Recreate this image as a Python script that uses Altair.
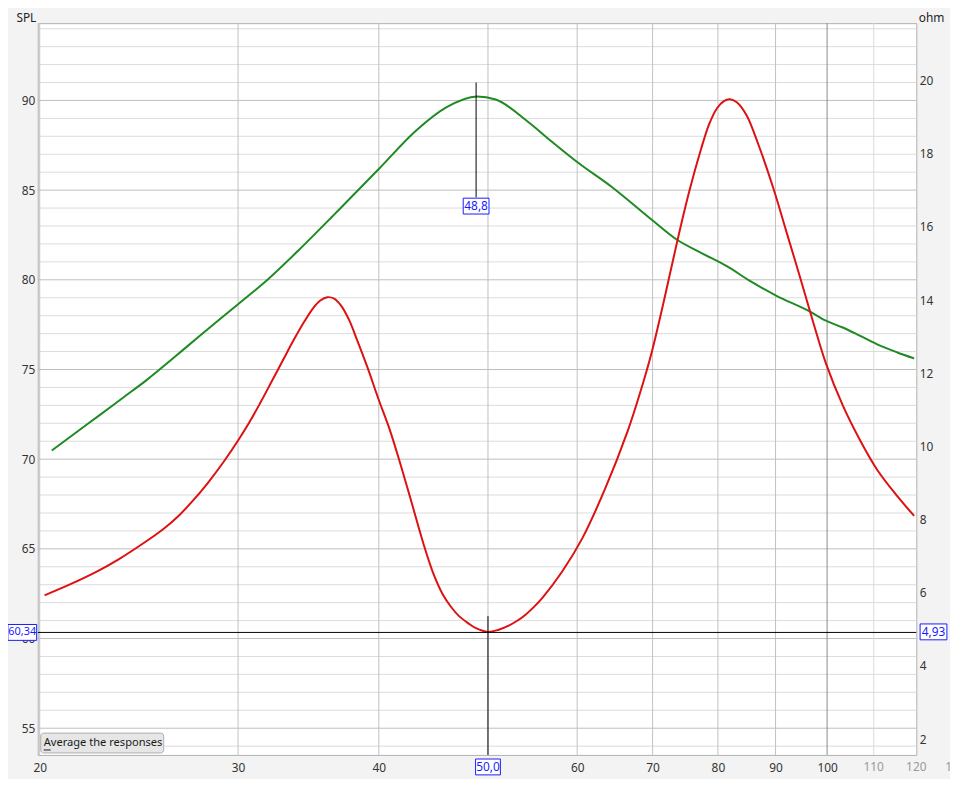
import altair as alt
import pandas as pd

# ---------------- data ----------------
spl_freq = [20.50, 21.47, 22.59, 23.76, 24.85, 26.30, 27.66, 30.00, 31.88,
            33.88, 36.74, 40.00, 43.20, 45.91, 48.88, 50.80, 54.32, 57.03,
            60.00, 64.36, 69.84, 73.47, 77.44, 81.47, 85.70, 90.18, 96.23,
            99.76, 103.26, 106.88, 111.30, 115.43, 119.48]
spl_db = [70.48, 71.42, 72.44, 73.47, 74.38, 75.65, 76.81, 78.64, 80.02,
          81.59, 83.81, 86.18, 88.34, 89.61, 90.22, 90.05, 88.78, 87.68,
          86.57, 85.19, 83.36, 82.26, 81.48, 80.76, 79.88, 79.11, 78.28,
          77.72, 77.34, 76.89, 76.34, 75.95, 75.62]

imp_freq = [20.20, 21.25, 22.45, 23.52, 24.85, 25.77, 26.56, 27.38, 28.23,
            29.10, 30.00, 30.73, 31.43, 32.14, 32.86, 33.60, 34.36, 34.99,
            35.49, 36.00, 36.51, 37.03, 37.64, 38.25, 39.04, 40.00, 40.90,
            41.74, 42.76, 43.82, 44.71, 45.63, 46.37, 47.13, 48.00, 48.78,
            50.00, 51.11, 52.16, 53.12, 53.99, 54.87, 55.88, 58.19, 60.61,
            63.50, 66.52, 68.16, 69.84, 71.71, 73.62, 75.43, 77.29, 78.55,
            79.83, 80.98, 81.97, 83.14, 84.84, 86.93, 89.61, 92.00, 94.65,
            97.17, 99.76, 103.26, 106.88, 110.85, 115.43, 119.48]
imp_ohm = [5.93, 6.22, 6.57, 6.92, 7.40, 7.75, 8.10, 8.53, 9.02,
           9.56, 10.16, 10.68, 11.22, 11.78, 12.34, 12.90, 13.42, 13.79,
           13.99, 14.08, 14.04, 13.85, 13.46, 12.92, 12.20, 11.27, 10.46,
           9.59, 8.48, 7.34, 6.53, 5.93, 5.61, 5.36, 5.17, 5.03,
           4.93, 4.99, 5.10, 5.24, 5.40, 5.60, 5.86, 6.58, 7.48,
           8.83, 10.42, 11.42, 12.55, 14.04, 15.61, 16.96, 18.13, 18.80,
           19.24, 19.44, 19.49, 19.41, 19.05, 18.24, 17.05, 15.88, 14.61,
           13.41, 12.27, 11.12, 10.19, 9.35, 8.64, 8.10]

# the 50 label sits under the cursor read-out box, so it is not listed
x_ticks = [20, 30, 40, 60, 70, 80, 90, 100]
x_ticks_faint = [110, 120, 130]
x_grid_mid = [20, 30, 40, 50, 60, 70, 80, 90]
x_grid_dark = [100]
x_grid_light = [110]
spl_ticks = [55, 60, 65, 70, 75, 80, 85, 90]
spl_minor = [v for v in range(54, 95) if v % 5 != 0]
ohm_ticks = [2, 4, 6, 8, 10, 12, 14, 16, 18, 20]

cursor_freq = 50.0
cursor_spl = 60.34
cursor_ohm = 4.93
peak_freq = 48.8

X_DOMAIN = [19.92, 120.0]
SPL_DOMAIN = [53.51, 94.31]
OHM_DOMAIN = [1.566, 21.572]
X_LABEL_LEVEL = 52.81   # SPL level at which the x tick labels sit

FONT = "Noto Sans"
BLUE = "#1a1aff"

xs = alt.Scale(type="log", domain=X_DOMAIN, nice=False)
ys = alt.Scale(domain=SPL_DOMAIN, nice=False, zero=False)
yo = alt.Scale(domain=OHM_DOMAIN, nice=False, zero=False)

# shared x axis: given identically to every layer so the merge keeps it
x_axis = alt.Axis(values=x_ticks, labelExpr="'' + datum.value",
                  orient="bottom", labelFont=FONT, labelFontSize=12,
                  labelColor="#333333", labelBaseline="middle",
                  labelPadding=12.5, domain=False, ticks=False, grid=False,
                  labelFlush=False, labelOverlap=False, title=None)
spl_axis = alt.Axis(values=spl_ticks, orient="left", title="SPL",
                    titleAngle=0, titleX=-12, titleY=-6,
                    titleAlign="center", titleBaseline="middle",
                    titleFont=FONT, titleFontSize=12,
                    titleFontWeight="normal", titleColor="#222222",
                    labelFont=FONT, labelFontSize=12, labelColor="#333333",
                    labelPadding=3, domain=False, ticks=False, grid=False)
ohm_axis = alt.Axis(values=ohm_ticks, orient="right", title="ohm",
                    titleAngle=0, titleX=15, titleY=-6,
                    titleAlign="center", titleBaseline="middle",
                    titleFont=FONT, titleFontSize=12,
                    titleFontWeight="normal", titleColor="#222222",
                    labelFont=FONT, labelFontSize=12, labelColor="#333333",
                    labelPadding=3, domain=False, ticks=False, grid=False)


def X(field="f"):
    return alt.X(f"{field}:Q", scale=xs, axis=x_axis, title=None)


def YS(field="v", axis=None):
    return alt.Y(f"{field}:Q", scale=ys, axis=axis, title=None)


def YO(field="v", axis=None):
    return alt.Y(f"{field}:Q", scale=yo, axis=axis, title=None)


layers = []

# ---------------- grid ----------------
layers.append(alt.Chart(pd.DataFrame({"v": spl_minor})).mark_rule(
    color="#dcdcdc", strokeWidth=1).encode(y=YS()))
layers.append(alt.Chart(pd.DataFrame({"v": spl_ticks})).mark_rule(
    color="#bdbdbd", strokeWidth=1).encode(y=YS()))
layers.append(alt.Chart(pd.DataFrame({"f": x_grid_mid})).mark_rule(
    color="#c0c0c0", strokeWidth=1).encode(x=X()))
layers.append(alt.Chart(pd.DataFrame({"f": x_grid_dark})).mark_rule(
    color="#8a8a8a", strokeWidth=1).encode(x=X()))
layers.append(alt.Chart(pd.DataFrame({"f": x_grid_light})).mark_rule(
    color="#dcdcdc", strokeWidth=1).encode(x=X()))

# faint tick labels at the right end (the last one is cut by the window)
layers.append(alt.Chart(pd.DataFrame({
    "f": x_ticks_faint, "v": [X_LABEL_LEVEL] * len(x_ticks_faint),
    "t": [str(v) for v in x_ticks_faint]})).mark_text(
    font=FONT, fontSize=12, color="#9a9a9a", baseline="middle", align="center"
).encode(x=X(), y=YS(), text="t:N"))

# ---------------- SPL curve (left axis) ----------------
layers.append(alt.Chart(pd.DataFrame({"f": spl_freq, "v": spl_db})).mark_line(
    color="#1f8a24", strokeWidth=2, interpolate="monotone"
).encode(x=X(), y=YS(axis=spl_axis)))

# ---------------- impedance curve (right axis) ----------------
layers.append(alt.Chart(pd.DataFrame({"f": imp_freq, "v": imp_ohm})).mark_line(
    color="#dd1111", strokeWidth=2, interpolate="catmull-rom"
).encode(x=X(), y=YO(axis=ohm_axis)))

# ---------------- cursor ----------------
layers.append(alt.Chart(pd.DataFrame({"v": [cursor_spl]})).mark_rule(
    color="black", strokeWidth=1).encode(y=YS()))
layers.append(alt.Chart(pd.DataFrame({"f": [cursor_freq], "v": [61.25],
                                      "v2": [SPL_DOMAIN[0]]})).mark_rule(
    color="black", strokeWidth=1).encode(x=X(), y=YS(), y2="v2:Q"))
layers.append(alt.Chart(pd.DataFrame({"f": [peak_freq], "v": [91.0],
                                      "v2": [84.6]})).mark_rule(
    color="black", strokeWidth=1).encode(x=X(), y=YS(), y2="v2:Q"))

spl_boxes = [
    (peak_freq, 84.11, "48,8", 26, 12),
    (cursor_freq, 52.84, "50,0", 25, 12),
    (19.30, cursor_spl, "60,34", 29, 11),
]
for f, v, t, w, fs in spl_boxes:
    d = pd.DataFrame({"f": [f], "v": [v], "t": [t]})
    layers.append(alt.Chart(d).mark_rect(
        fill="white", stroke=BLUE, strokeWidth=1, width=w, height=16
    ).encode(x=X(), y=YS()))
    layers.append(alt.Chart(d).mark_text(
        font=FONT, fontSize=fs, color=BLUE, baseline="middle", align="center"
    ).encode(x=X(), y=YS(), text="t:N"))

od = pd.DataFrame({"f": [124.3], "v": [cursor_ohm], "t": ["4,93"]})
layers.append(alt.Chart(od).mark_rect(
    fill="white", stroke=BLUE, strokeWidth=1, width=27, height=16
).encode(x=X(), y=YO()))
layers.append(alt.Chart(od).mark_text(
    font=FONT, fontSize=12, color=BLUE, baseline="middle", align="center"
).encode(x=X(), y=YO(), text="t:N"))

# ---------------- button ----------------
layers.append(alt.Chart(pd.DataFrame({"a": [1]})).mark_rect(
    fill="#e6e6e6", stroke="#adadad", strokeWidth=1, cornerRadius=3
).encode(x=alt.value(3), x2=alt.value(127), y=alt.value(716), y2=alt.value(736)))
layers.append(alt.Chart(pd.DataFrame({"t": ["Average the responses"]})).mark_text(
    font=FONT, fontSize=11.2, color="#1a1a1a", align="left", baseline="middle"
).encode(x=alt.value(6), y=alt.value(726), text="t:N"))
layers.append(alt.Chart(pd.DataFrame({"a": [1]})).mark_rule(
    color="#1a1a1a", strokeWidth=1
).encode(x=alt.value(6), x2=alt.value(13), y=alt.value(733)))

chart = alt.layer(*layers).resolve_scale(y="independent").properties(
    width=886, height=738,
    autosize=alt.AutoSizeParams(type="none"),
    padding={"left": 30, "top": 12, "right": 34, "bottom": 21},
).configure(
    background="#f3f3f3",
).configure_view(
    fill="white", stroke="#b0b0b0", strokeWidth=1,
)

chart.save("out.html", embed_options={"renderer": "svg", "actions": False})
